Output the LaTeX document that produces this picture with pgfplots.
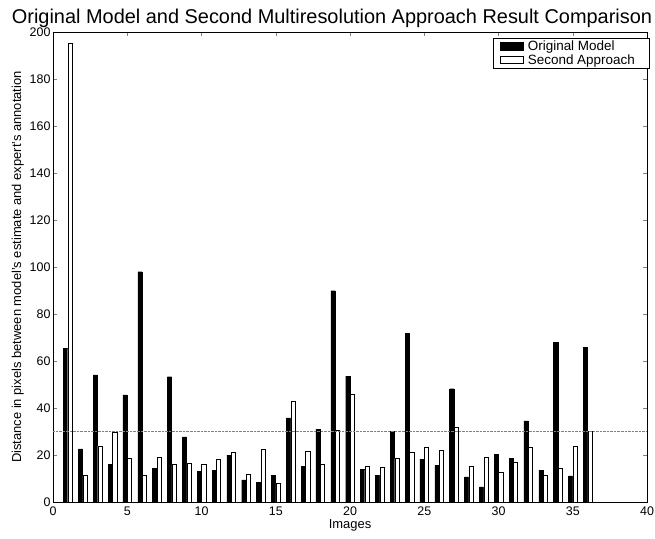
\documentclass[border=0pt]{standalone}
\usepackage{fontspec}
\setmainfont{Liberation Sans}
\usepackage{pgfplots}
\pgfplotsset{compat=1.18}
\begin{document}
\begin{tikzpicture}[x=1bp,y=1bp]
\begin{axis}[
  scale only axis,
  width=594bp, height=470bp,
  xmin=0, xmax=40, ymin=0, ymax=200,
  xtick={0,5,...,40}, ytick={0,20,...,200},
  tick align=inside,
  tick pos=both,
  major tick length=4bp,
  /pgf/number format/assume math mode=true,
  ticklabel style={font=\fontsize{12.5}{14}\selectfont},
  xticklabel style={yshift=-1bp},
  yticklabel style={xshift=1bp},
  xlabel={Images},
  ylabel={Distance in pixels between model's estimate and expert's annotation},
  label style={font=\fontsize{13}{15}\selectfont},
  xlabel style={yshift=3bp},
  ylabel style={yshift=-1bp},
  title={Original Model and Second Multiresolution Approach Result Comparison},
  title style={font=\fontsize{20}{22}\selectfont, yshift=-5bp, xshift=-18bp},
  legend style={at={(1,1)}, anchor=north east, xshift=2bp, yshift=-6bp, font=\fontsize{13.5}{14}\selectfont, draw=black, inner xsep=1bp, inner ysep=0.5bp, row sep=-1.5bp, cells={anchor=west}},
  legend image code/.code={\path (-6bp,0) (25bp,0); \draw[#1] (0bp,-3.5bp) rectangle (23bp,4bp);},
  axis line style={black},
]
\addplot[ybar, bar width=0.28, bar shift=-0.15, fill=black, draw=black] coordinates {
(1,65.3) (2,22.6) (3,54.1) (4,15.9) (5,45.6) (6,98.0) (7,14.3) (8,53.3) (9,27.7) (10,13.1)
(11,13.5) (12,20.0) (13,9.4) (14,8.4) (15,11.4) (16,35.8) (17,15.2) (18,31.0) (19,89.9) (20,53.6)
(21,13.8) (22,11.4) (23,30.1) (24,71.9) (25,18.2) (26,15.6) (27,48.2) (28,10.7) (29,6.4) (30,20.3)
(31,18.6) (32,34.5) (33,13.6) (34,68.0) (35,11.1) (36,65.9)};
\addlegendentry{Original Model\hspace*{11bp}}
\addplot[ybar, bar width=0.28, bar shift=0.15, fill=white, draw=black] coordinates {
(1,195.3) (2,11.2) (3,23.9) (4,29.7) (5,18.5) (6,11.4) (7,18.9) (8,15.9) (9,16.6) (10,16.3)
(11,18.3) (12,21.4) (13,11.9) (14,22.3) (15,7.8) (16,42.8) (17,21.7) (18,16.2) (19,30.4) (20,45.9)
(21,15.3) (22,14.8) (23,18.5) (24,21.0) (25,23.2) (26,22.0) (27,32.0) (28,15.3) (29,19.0) (30,12.6)
(31,16.8) (32,23.4) (33,11.4) (34,14.2) (35,23.6) (36,30.0)};
\addlegendentry{Second Approach\hspace*{11bp}}
\addplot[gray, densely dotted, thin, forget plot] coordinates {(0,30) (40,30)};
\end{axis}
\pgfresetboundingbox
\useasboundingbox ([xshift=-53bp,yshift=-36bp]current axis.south west) rectangle ([xshift=8bp,yshift=32bp]current axis.north east);
\end{tikzpicture}
\end{document}
